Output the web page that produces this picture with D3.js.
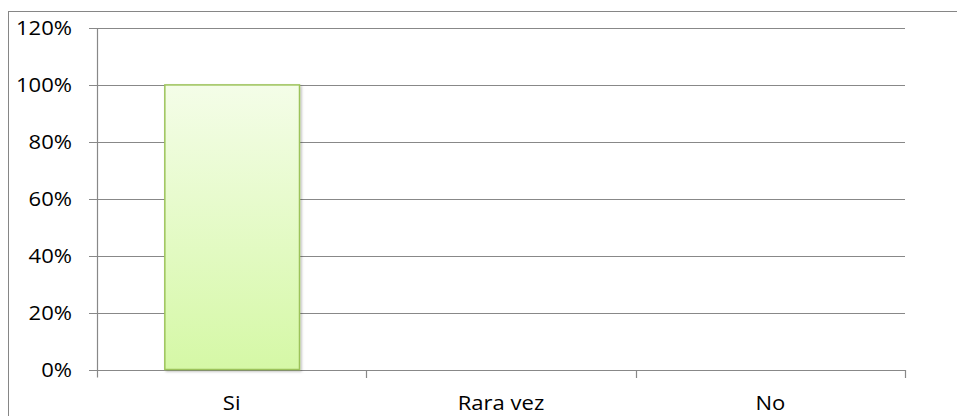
<!DOCTYPE html>
<html>
<head>
<meta charset="utf-8">
<script src="https://cdn.jsdelivr.net/npm/d3@7"></script>
<style>
html,body{margin:0;padding:0;background:#fff;}
svg{display:block;}
text{font-family:"Open Sans",sans-serif;fill:#000;}
</style>
</head>
<body>
<svg id="chart" width="957" height="416"></svg>
<script>
const categories = ["Si", "Rara vez", "No"];
const values = [1.0, 0, 0];
const yTicks = [0, 0.2, 0.4, 0.6, 0.8, 1.0, 1.2];

(function () {
const svg = d3.select("#chart");
const W = 957, H = 416;
const mLeft = 97, mRight = 905, mTop = 28, mBottom = 369.5;
const sx = 1.13, fs = 19.5;

// outer border
svg.append("rect").attr("x", 8.5).attr("y", 11.5).attr("width", W + 10).attr("height", H + 10)
  .attr("fill", "none").attr("stroke", "#868686").attr("stroke-width", 1);

const defs = svg.append("defs");
const grad = defs.append("linearGradient").attr("id", "barGrad")
  .attr("x1", 0).attr("y1", 0).attr("x2", 0).attr("y2", 1);
grad.append("stop").attr("offset", "0%").attr("stop-color", "#f4fde8");
grad.append("stop").attr("offset", "100%").attr("stop-color", "#d5f8a6");
const filt = defs.append("filter").attr("id", "shadow").attr("x", "-10%").attr("y", "-10%").attr("width", "130%").attr("height", "130%");
filt.append("feDropShadow").attr("dx", 1.5).attr("dy", 1.5).attr("stdDeviation", 1.2).attr("flood-color", "#000").attr("flood-opacity", 0.25);

const x = d3.scaleBand().domain(categories).range([mLeft, mRight]).paddingInner(0.5).paddingOuter(0.25);
const y = d3.scaleLinear().domain([0, 1.2]).range([mBottom, mTop]);

// gridlines
svg.append("g").selectAll("line").data(yTicks).join("line")
  .attr("x1", mLeft - 8).attr("x2", mRight)
  .attr("y1", d => Math.round(y(d)) + 0.5).attr("y2", d => Math.round(y(d)) + 0.5)
  .attr("stroke", "#888").attr("stroke-width", 1.2);

// y axis line
svg.append("line").attr("x1", mLeft + 0.5).attr("x2", mLeft + 0.5)
  .attr("y1", mTop).attr("y2", mBottom + 8).attr("stroke", "#888").attr("stroke-width", 1.2);

// category tick marks (boundaries)
const step = x.step();
const bounds = categories.map((c, i) => mLeft + step * (i + 1));
svg.append("g").selectAll("line").data(bounds).join("line")
  .attr("x1", d => Math.round(d) + 0.5).attr("x2", d => Math.round(d) + 0.5)
  .attr("y1", Math.round(y(0))).attr("y2", Math.round(y(0)) + 8)
  .attr("stroke", "#888").attr("stroke-width", 1.2);

// bars
svg.append("g").selectAll("rect").data(categories.map((c, i) => ({c, v: values[i]})).filter(d => d.v > 0)).join("rect")
  .attr("x", d => x(d.c) + 0.5).attr("width", x.bandwidth())
  .attr("y", d => y(d.v)).attr("height", d => y(0) - y(d.v))
  .attr("fill", "url(#barGrad)").attr("stroke", "#9cc35a").attr("stroke-width", 1.5)
  .attr("filter", "url(#shadow)");

// y tick labels
const fmt = d3.format(".0%");
svg.append("g").selectAll("text").data(yTicks).join("text")
  .attr("transform", d => `translate(72,${y(d) + 7}) scale(${sx},1)`)
  .attr("text-anchor", "end").attr("font-size", fs)
  .text(d => fmt(d));

// category labels
svg.append("g").selectAll("text").data(categories).join("text")
  .attr("transform", d => `translate(${x(d) + x.bandwidth() / 2},410) scale(${sx},1)`)
  .attr("text-anchor", "middle").attr("font-size", fs)
  .text(d => d);
})();
</script>
</body>
</html>
